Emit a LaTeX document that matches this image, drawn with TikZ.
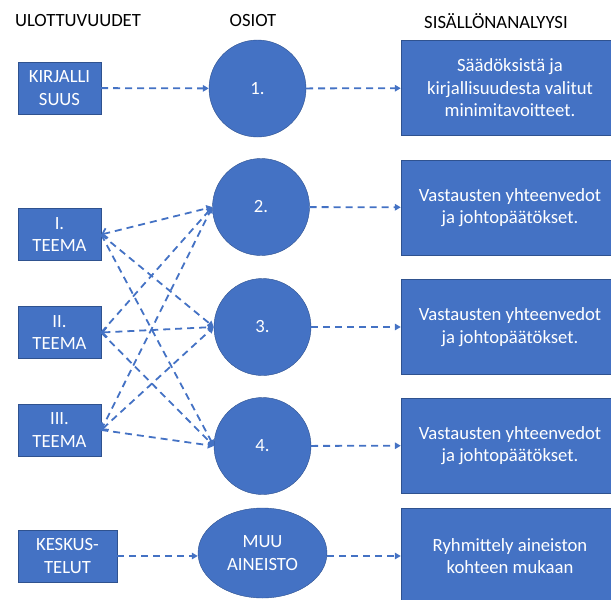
\documentclass[tikz,border=0pt]{standalone}
\usepackage{fontspec}
\setmainfont{Carlito}
\usepackage{tikz}
\usetikzlibrary{arrows.meta,shapes.geometric}
\definecolor{figBlue}{HTML}{4472C4}
\definecolor{figEdge}{HTML}{2F528F}

\begin{document}
\begin{tikzpicture}[x=1pt, y=-1pt,
  every node/.style={font=\fontsize{18.67}{22.5}\selectfont},
  hdr/.style={text=black},
  dimbox/.style={draw=figEdge, fill=figBlue, text=white, minimum width=83pt,
             minimum height=52pt, inner sep=0pt, align=center},
  osio/.style={circle, draw=figEdge, fill=figBlue, text=white,
             minimum size=97pt, inner sep=0pt},
  resbox/.style={draw=figEdge, fill=figBlue, text=white, minimum width=218pt,
             minimum height=95pt, inner sep=0pt, align=center},
  arr/.style={-{Triangle[length=6pt,width=6.5pt]}, figBlue, line width=1.8pt,
             dash pattern=on 7pt off 5pt},
  twohead/.style={{Straight Barb[length=4.5pt,width=10pt]}-{Triangle[length=6pt,width=6.5pt]}},
]
\useasboundingbox (0,0) rectangle (611,600);
\clip (0,0) rectangle (611,600);

% Headers
\node[hdr] (hdim) at (78,21) {ULOTTUVUUDET};
\node[hdr] (hosiot) at (253,21) {OSIOT};
\node[hdr] (hsis) at (496,21) {SISÄLLÖNANALYYSI};

% Left column: dimensions
\node[dimbox] (kirj) at (59.5,88) {KIRJALLI\\SUUS};
\node[dimbox] (t1) at (59.5,234.5) {I.\\TEEMA};
\node[dimbox] (t2) at (59.5,332.5) {II.\\TEEMA};
\node[dimbox] (t3) at (59.5,430) {III.\\TEEMA};
\node[dimbox, minimum width=99pt] (kesk) at (67.5,556) {KESKUS-\\TELUT};

% Middle column: sections
\node[osio] (c1) at (257.5,88.5) {1.};
\node[osio] (c2) at (261,207) {2.};
\node[osio] (c3) at (262.5,327) {3.};
\node[osio] (c4) at (262.5,446) {4.};
\node[ellipse, draw=figEdge, fill=figBlue, text=white, minimum width=129pt,
  minimum height=90pt, inner sep=0pt, align=center] (muu) at (262.5,553) {MUU\\AINEISTO};

% Right column: analysis
\node[resbox] (r1) at (510,88) {Säädöksistä ja\\kirjallisuudesta valitut\\minimitavoitteet.};
\node[resbox] (r2) at (510,207.5) {Vastausten yhteenvedot\\ja johtopäätökset.};
\node[resbox] (r3) at (510,327) {Vastausten yhteenvedot\\ja johtopäätökset.};
\node[resbox] (r4) at (510,445.5) {Vastausten yhteenvedot\\ja johtopäätökset.};
\node[resbox] (r5) at (510,556) {Ryhmittely aineiston\\kohteen mukaan};

% Arrows
\draw[arr] (kirj) -- (c1);
\draw[arr] (c1) -- (r1);
\draw[arr] (c2) -- (r2);
\draw[arr] (c3) -- (r3);
\draw[arr] (c4) -- (r4);
\draw[arr] (kesk.east) -- (kesk.east -| muu.west);
\draw[arr] (muu.east |- r5) -- (r5.west);

% Themes to sections
\draw[arr, twohead] (t1.east) -- (c2.west);
\draw[arr] (t1.east) -- (c3.west);
\draw[arr] (t1.east) -- (c4.west);
\draw[arr] (t2.east) -- (c2.west);
\draw[arr, twohead] (t2.east) -- (c3.west);
\draw[arr] (t2.east) -- (c4.west);
\draw[arr] (t3.east) -- (c2.west);
\draw[arr, twohead] (t3.east) -- (c3.west);
\draw[arr] (t3.east) -- (c4.west);

\end{tikzpicture}
\end{document}
